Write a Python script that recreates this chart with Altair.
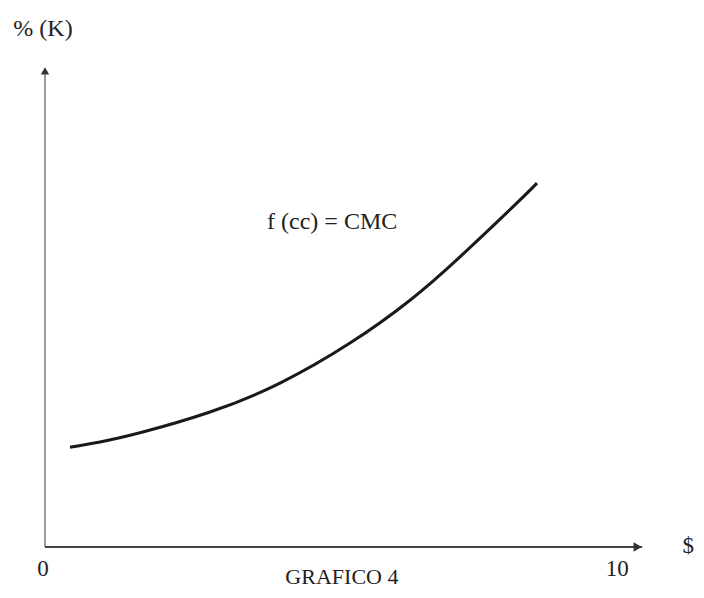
import altair as alt
import pandas as pd

# Curve f(cc) = CMC
curve_x = [0.435, 0.958, 1.654, 2.873, 4.092, 5.311, 6.356, 7.226, 8.219, 8.567]
curve_y = [20.7, 21.8, 23.7, 28.0, 34.0, 42.3, 51.2, 60.2, 71.4, 75.5]

tick_values = [0, 10]
tick_labels = ["0", "10"]
x_max = 10.5
y_max = 100

curve = pd.DataFrame({"x": curve_x, "y": curve_y})
xs = alt.Scale(domain=[0, x_max], nice=False, zero=False)
ys = alt.Scale(domain=[0, y_max], nice=False, zero=False)
FONT = "Liberation Serif"

line = alt.Chart(curve).mark_line(color="#1a1a1a", strokeWidth=3, interpolate="natural").encode(
    x=alt.X("x:Q", scale=xs, axis=None),
    y=alt.Y("y:Q", scale=ys, axis=None),
)

yaxis = alt.Chart(pd.DataFrame({"x": [0], "y": [0], "y2": [y_max - 1]})).mark_rule(
    color="#666", strokeWidth=1.3).encode(
    x=alt.X("x:Q", scale=xs, axis=None), y=alt.Y("y:Q", scale=ys, axis=None), y2="y2:Q")

xaxis = alt.Chart(pd.DataFrame({"x": [0], "x2": [x_max - 0.1], "y": [0]})).mark_rule(
    color="#444", strokeWidth=2).encode(
    x=alt.X("x:Q", scale=xs, axis=None), x2="x2:Q", y=alt.Y("y:Q", scale=ys, axis=None))

arrow_up = alt.Chart(pd.DataFrame({"x": [0], "y": [y_max - 1.2]})).mark_point(
    shape="triangle-up", filled=True, color="#333", size=70, opacity=1).encode(
    x=alt.X("x:Q", scale=xs, axis=None), y=alt.Y("y:Q", scale=ys, axis=None))

arrow_right = alt.Chart(pd.DataFrame({"x": [x_max - 0.18], "y": [0]})).mark_point(
    shape="triangle-right", filled=True, color="#333", size=90, opacity=1).encode(
    x=alt.X("x:Q", scale=xs, axis=None), y=alt.Y("y:Q", scale=ys, axis=None))

ticks = alt.Chart(pd.DataFrame({"x": tick_values, "t": tick_labels})).mark_text(
    font=FONT, fontSize=23, color="#222", baseline="middle", dx=-2).encode(
    x=alt.X("x:Q", scale=xs, axis=None), y=alt.value(504), text="t:N")

labels = pd.DataFrame({
    "x": [-0.035, 11.2, 5.17, 5.0],
    "y": [107.5, 0.2, -6.2, 67.4],
    "t": ["% (K)", "$", "GRAFICO 4", "f (cc) = CMC"],
    "s": [24, 23, 22, 24],
})
texts = alt.Chart(labels).mark_text(font=FONT, color="#222", baseline="middle").encode(
    x=alt.X("x:Q", scale=xs, axis=None),
    y=alt.Y("y:Q", scale=ys, axis=None),
    text="t:N",
    size=alt.Size("s:Q", scale=None, legend=None),
)

chart = alt.layer(yaxis, xaxis, arrow_up, arrow_right, line, ticks, texts).properties(
    width=603, height=482,
    autosize=alt.AutoSizeParams(type="none"),
    padding={"left": 37, "top": 57, "right": 48, "bottom": 44},
).configure(background="white").configure_view(strokeWidth=0, stroke="transparent")

chart.save("out.html", embed_options={"renderer": "svg", "actions": False})
